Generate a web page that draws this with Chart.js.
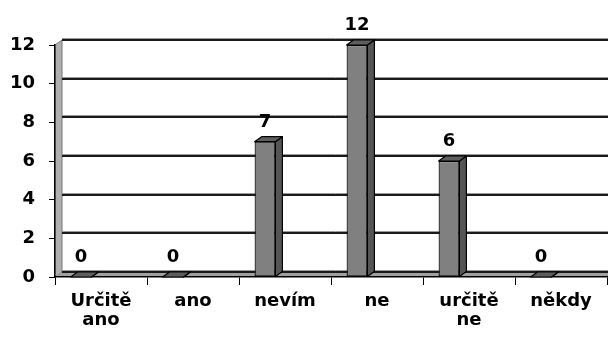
<!DOCTYPE html>
<html>
<head>
<meta charset="utf-8">
<script src="https://cdn.jsdelivr.net/npm/chart.js@4"></script>
<style>
html, body { margin: 0; padding: 0; background: #fff; }
</style>
</head>
<body>
<canvas id="graf" width="608" height="338"></canvas>
<script>
// data
var kategorie = [["Určitě", "ano"], "ano", "nevím", "ne", ["určitě", "ne"], "někdy"];
var pocty = [0, 0, 7, 12, 6, 0];
var osaMin = 0, osaMax = 12, osaKrok = 2;

// hloubka 3D efektu
var hx = 7, hy = -5;

var pismo = { family: "'DejaVu Sans', sans-serif", size: 18, weight: 'bold', lineHeight: 1.06 };

// stěny, podlaha a mřížka na zadní stěně
var steny = {
    id: 'steny',
    beforeDraw: function(chart) {
        var ctx = chart.ctx;
        var a = chart.chartArea;
        var osaY = chart.scales.y;
        var l = a.left, r = chart.width + 2, t = a.top, b = a.bottom;
        ctx.save();
        // levá stěna
        ctx.fillStyle = '#b0b0b0';
        ctx.beginPath();
        ctx.moveTo(l, b);
        ctx.lineTo(l, t);
        ctx.lineTo(l + hx, t + hy);
        ctx.lineTo(l + hx, b + hy);
        ctx.closePath();
        ctx.fill();
        ctx.strokeStyle = '#777';
        ctx.lineWidth = 1;
        ctx.stroke();
        // podlaha
        ctx.fillStyle = '#a0a0a0';
        ctx.beginPath();
        ctx.moveTo(l, b);
        ctx.lineTo(r, b);
        ctx.lineTo(r, b + hy);
        ctx.lineTo(l + hx, b + hy);
        ctx.closePath();
        ctx.fill();
        // mřížka
        osaY.ticks.forEach(function(tk) {
            var py = Math.round(osaY.getPixelForValue(tk.value) + hy);
            ctx.strokeStyle = '#9a9a9a';
            ctx.lineWidth = 1;
            ctx.beginPath();
            ctx.moveTo(l + hx, py - 1.5);
            ctx.lineTo(r, py - 1.5);
            ctx.stroke();
            ctx.strokeStyle = '#1a1a1a';
            ctx.lineWidth = 2;
            ctx.beginPath();
            ctx.moveTo(l + hx, py);
            ctx.lineTo(r, py);
            ctx.stroke();
        });
        ctx.restore();
    }
};

// boční a horní stěny sloupců + popisky hodnot
var sloupce3d = {
    id: 'sloupce3d',
    afterDatasetsDraw: function(chart) {
        var ctx = chart.ctx;
        var meta = chart.getDatasetMeta(0);
        ctx.save();
        ctx.lineWidth = 1.2;
        ctx.strokeStyle = '#000';
        ctx.lineJoin = 'round';
        meta.data.forEach(function(bar, i) {
            var w = bar.width;
            var x1 = bar.x - w / 2, x2 = bar.x + w / 2;
            var y = bar.y, z = bar.base;
            // bok
            ctx.fillStyle = '#555555';
            ctx.beginPath();
            ctx.moveTo(x2, y);
            ctx.lineTo(x2 + hx, y + hy);
            ctx.lineTo(x2 + hx, z + hy);
            ctx.lineTo(x2, z);
            ctx.closePath();
            ctx.fill();
            ctx.stroke();
            // vršek
            ctx.fillStyle = '#5e5e5e';
            ctx.beginPath();
            ctx.moveTo(x1, y);
            ctx.lineTo(x1 + hx, y + hy);
            ctx.lineTo(x2 + hx, y + hy);
            ctx.lineTo(x2, y);
            ctx.closePath();
            ctx.fill();
            ctx.stroke();
            // hodnota
            ctx.fillStyle = '#000';
            ctx.font = 'bold 18px ' + pismo.family;
            ctx.textAlign = 'center';
            ctx.textBaseline = 'alphabetic';
            ctx.fillText(String(pocty[i]), bar.x, y - 15);
        });
        ctx.restore();
    }
};

var graf = new Chart(document.getElementById('graf'), {
    type: 'bar',
    data: {
        labels: kategorie,
        datasets: [
            {
                data: pocty,
                backgroundColor: '#808080',
                borderColor: '#000',
                borderWidth: 1.2,
                borderSkipped: false,
                barPercentage: 0.52,
                categoryPercentage: 0.87
            },
            {
                // prázdná řada, jen posune sloupce doleva
                data: pocty.map(function() { return null; }),
                backgroundColor: 'rgba(0,0,0,0)',
                borderWidth: 0,
                barPercentage: 0.52,
                categoryPercentage: 0.87
            }
        ]
    },
    options: {
        responsive: false,
        animation: false,
        events: [],
        layout: { padding: { top: 45, right: 1, left: 0, bottom: 0 } },
        plugins: {
            legend: { display: false },
            title: { display: false },
            tooltip: { enabled: false }
        },
        scales: {
            x: {
                grid: { drawOnChartArea: false, offset: true, color: '#000', tickLength: 8, lineWidth: 1 },
                border: { display: true, color: '#000', width: 1.5 },
                ticks: { color: '#000', font: pismo, padding: 7, maxRotation: 0, autoSkip: false },
                afterFit: function(s) { s.height = 61; }
            },
            y: {
                min: osaMin,
                max: osaMax,
                grid: { drawOnChartArea: false, color: '#000', tickLength: 6, lineWidth: 1 },
                border: { display: true, color: '#000', width: 1.5 },
                ticks: { stepSize: osaKrok, color: '#000', font: pismo, padding: 14 },
                afterFit: function(s) { s.width = 55; }
            }
        }
    },
    plugins: [steny, sloupce3d]
});
</script>
</body>
</html>
